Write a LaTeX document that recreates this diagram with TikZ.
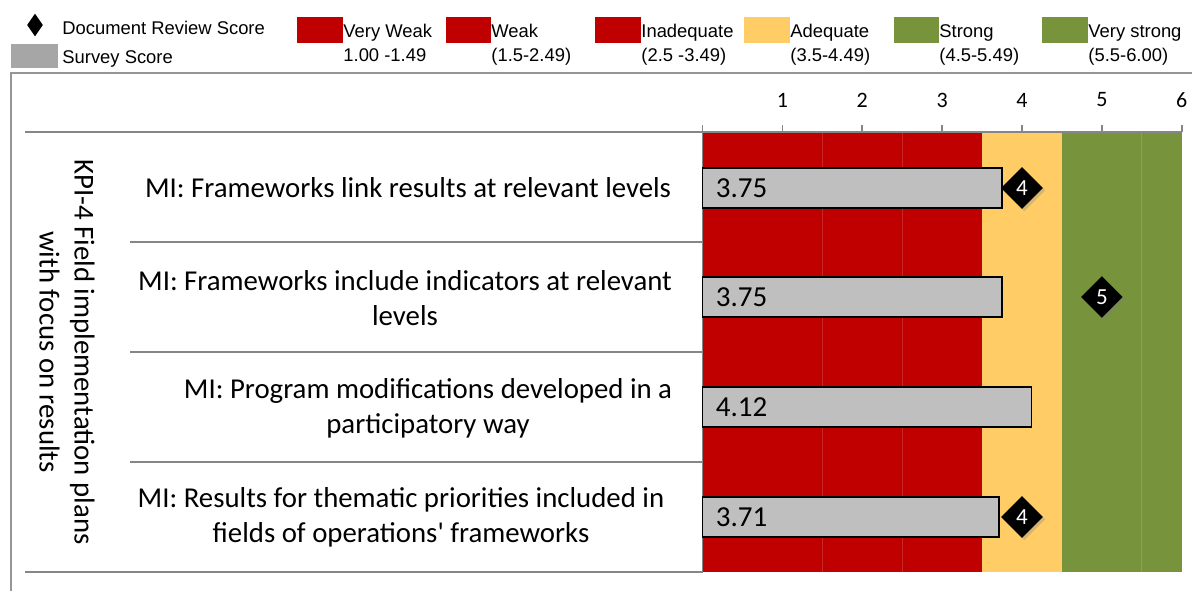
\documentclass[tikz,border=0pt]{standalone}
\usepackage{fontspec}
\usepackage{xcolor}
\setmainfont{Carlito}
\newfontfamily\arialfont{Liberation Sans}
\usetikzlibrary{shapes.geometric,shadows}

\definecolor{weakred}{HTML}{C00000}
\definecolor{adequateyellow}{HTML}{FFCC66}
\definecolor{stronggreen}{HTML}{77933C}
\definecolor{surveygrey}{HTML}{BFBFBF}
\definecolor{legendgrey}{HTML}{A6A6A6}
\definecolor{framegrey}{HTML}{969696}
\definecolor{axisgrey}{HTML}{868686}

\tikzset{
  legendtext/.style={anchor=base west, inner sep=0pt, font=\arialfont\fontsize{9.2}{11}\selectfont},
  cattext/.style={align=center, inner sep=0pt, font=\fontsize{14.4}{17.5}\selectfont},
  ticklabel/.style={inner sep=0pt, font=\fontsize{11}{13}\selectfont},
  barlabel/.style={anchor=west, inner sep=0pt, xshift=6.5pt, font=\fontsize{14.5}{17}\selectfont},
  reviewmark/.style={diamond, fill=black, minimum size=21pt, inner sep=0pt, text=white,
    font=\fontsize{11.5}{13}\selectfont,
    drop shadow={opacity=0.3, shadow xshift=1.2pt, shadow yshift=-1.2pt}},
  surveybar/.style={fill=surveygrey, draw=black, line width=0.9pt}
}

\begin{document}
\begin{tikzpicture}[x=0.5pt, y=-0.5pt]
        \useasboundingbox (0,0) rectangle (1192,591);

        \node [diamond, fill=black, minimum width=8pt, minimum height=11.5pt, inner sep=0pt] (docmark) at (35,25) {};
        \node [legendtext] (doclabel) at (62,34) {Document Review Score};
        \fill [legendgrey] (11,44) rectangle (58,68);
        \node [legendtext] (surveylabel) at (62,63) {Survey Score};

        \fill [weakred] (297,17) rectangle (343,43);
        \node [legendtext] (veryweak) at (343,37) {Very Weak};
        \node [legendtext] (veryweakrange) at (343,61) {1.00 -1.49};
        \fill [weakred] (446,17) rectangle (491,43);
        \node [legendtext] (weak) at (491,37) {Weak};
        \node [legendtext] (weakrange) at (491,61) {(1.5-2.49)};
        \fill [weakred] (595,17) rectangle (641,43);
        \node [legendtext] (inadequate) at (641,37) {Inadequate};
        \node [legendtext] (inadequaterange) at (641,61) {(2.5 -3.49)};
        \fill [adequateyellow] (744,17) rectangle (790,43);
        \node [legendtext] (adequate) at (790,37) {Adequate};
        \node [legendtext] (adequaterange) at (790,61) {(3.5-4.49)};
        \fill [stronggreen] (894,17) rectangle (939,43);
        \node [legendtext] (strong) at (939,37) {Strong};
        \node [legendtext] (strongrange) at (939,61) {(4.5-5.49)};
        \fill [stronggreen] (1042,17) rectangle (1088,43);
        \node [legendtext] (verystrong) at (1088,37) {Very strong};
        \node [legendtext] (verystrongrange) at (1088,61) {(5.5-6.00)};

        \draw [framegrey, line width=0.9pt] (11,591) -- (11,73) -- (1192,73);

        \draw [axisgrey, line width=0.8pt] (25,132) -- (703,132);
        \draw [axisgrey, line width=0.8pt] (130,242) -- (703,242);
        \draw [axisgrey, line width=0.8pt] (130,352) -- (703,352);
        \draw [axisgrey, line width=0.8pt] (130,462) -- (703,462);
        \draw [axisgrey, line width=0.8pt] (25,572) -- (703,572);

        \node [cattext, rotate=-90] (kpi) at (67,352) {KPI-4 Field implementation plans\\with focus on results};
        \node [cattext] (mi1) at (408,188) {MI: Frameworks link results at relevant levels};
        \node [cattext] (mi2) at (405,298) {MI: Frameworks include indicators at relevant\\levels};
        \node [cattext] (mi3) at (428,408) {MI: Program modifications developed in a\\participatory way};
        \node [cattext] (mi4) at (401,517) {MI: Results for thematic priorities included in\\fields of operations\textquotesingle{} frameworks};

        \begin{scope}[shift={(702.5,0)}, x=39.935pt]
        \fill [weakred] (0,132) rectangle (3.5,572);
        \fill [adequateyellow] (3.5,132) rectangle (4.5,572);
        \fill [stronggreen] (4.5,132) rectangle (6,572);
        \draw [white, opacity=0.15] (1.5,132) -- (1.5,572);
        \draw [white, opacity=0.15] (2.5,132) -- (2.5,572);
        \draw [white, opacity=0.15] (5.5,132) -- (5.5,572);

        \draw [axisgrey, line width=0.8pt] (-0.14,132) -- (6,132);
        \draw [axisgrey, line width=0.8pt] (0,125) -- (0,572);
        \draw [axisgrey, line width=0.8pt] (1,125) -- (1,132);
        \draw [axisgrey, line width=0.8pt] (2,125) -- (2,132);
        \draw [axisgrey, line width=0.8pt] (3,125) -- (3,132);
        \draw [axisgrey, line width=0.8pt] (4,125) -- (4,132);
        \draw [axisgrey, line width=0.8pt] (5,125) -- (5,132);
        \draw [axisgrey, line width=0.8pt] (6,125) -- (6,132);
        \node [ticklabel] (tick1) at (1,100) {1};
        \node [ticklabel] (tick2) at (2,100) {2};
        \node [ticklabel] (tick3) at (3,100) {3};
        \node [ticklabel] (tick4) at (4,100) {4};
        \node [ticklabel] (tick5) at (5,100) {5};
        \node [ticklabel] (tick6) at (6,100) {6};

        \draw [surveybar] (0,168) rectangle (3.75,208);
        \draw [surveybar] (0,277) rectangle (3.75,317);
        \draw [surveybar] (0,387) rectangle (4.12,427);
        \draw [surveybar] (0,497) rectangle (3.71,537);
        \node [barlabel] (survey1) at (0,188) {3.75};
        \node [barlabel] (survey2) at (0,297) {3.75};
        \node [barlabel] (survey3) at (0,407) {4.12};
        \node [barlabel] (survey4) at (0,517) {3.71};

        \node [reviewmark] (review1) at (4,188) {4};
        \node [reviewmark] (review2) at (5,297) {5};
        \node [reviewmark] (review4) at (4,517) {4};
        \end{scope}
\end{tikzpicture}
\end{document}
